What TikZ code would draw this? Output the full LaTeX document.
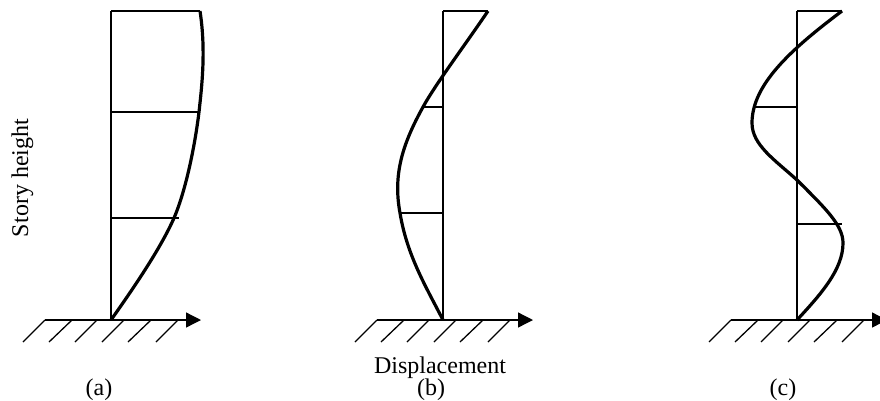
\documentclass[tikz,border=0pt]{standalone}
\usepackage{fontspec}
\setmainfont{Liberation Serif}
\usetikzlibrary{arrows.meta}
\tikzset{
  column/.style={draw, line width=1.3pt},
  modeline/.style={draw, line width=3.2pt, line join=round},
  ground/.style={-{Triangle[length=15pt,width=15pt]}, line width=1.3pt},
  hatch/.style={draw, line width=1.3pt},
  caption/.style={font=\fontsize{24}{24}\selectfont, inner sep=0pt, anchor=base},
}

\begin{document}
\begin{tikzpicture}[x=1pt, y=-1pt]
\useasboundingbox (0,0) rectangle (880,400);

%% ground lines, one for each panel
\foreach \n/\x in {a/0, b/332, c/686} {
  \coordinate (base\n) at ({111+\x}, 320);
  \coordinate (top\n) at ({111+\x}, 11);
  \coordinate (gl\n) at ({45+\x}, 320);
  \coordinate (gr\n) at ({201+\x}, 320);
  \draw[ground] (gl\n) -- (gr\n);
  \draw[column] (base\n) -- (top\n);
  % hatching below the ground line
  \foreach \h/\b in {45/23, 72/49, 97/75, 124/102, 151/128, 178/156} {
    \draw[hatch] ({\h+\x}, 320) -- ({\b+\x}, 342);
  }
}

%% Panel (a)
\draw[column] (topa) -- (200, 11);
\draw[column] (111, 112) -- (200, 112);
\draw[column] (111, 218) -- (179, 218);
\draw[modeline] (basea) .. controls (130, 293) and (160, 250) .. (174, 218)
  .. controls (186, 190) and (195, 145) .. (199, 112)
  .. controls (202, 85) and (206, 50) .. (200, 11);

%% Panel (b)
\draw[column] (topb) -- (488, 11);
\draw[column] (423, 107) -- (443, 107);
\draw[column] (400, 213) -- (443, 213);
\draw[modeline] (baseb) .. controls (425, 285) and (407, 255) .. (400, 213)
  .. controls (393, 175) and (402, 145) .. (423, 107)
  .. controls (435, 85) and (465, 45) .. (488, 11);

%% Panel (c)
\draw[column] (topc) -- (842, 11);
\draw[column] (755, 107) -- (797, 107);
\draw[column] (797, 224) -- (842, 224);
\draw[modeline] (basec) .. controls (820, 295) and (843, 270) .. (843, 243)
  .. controls (843, 225) and (825, 208) .. (797, 180)
  .. controls (775, 160) and (752, 145) .. (752, 123)
  .. controls (752, 85) and (790, 50) .. (842, 11);

%% Labels
\node[caption, rotate=90] (yaxis) at (28, 178) {Story height};
\node[caption] (xaxis) at (440, 373) {Displacement};
\node[caption] (capa) at (99, 395) {(a)};
\node[caption] (capb) at (431, 395) {(b)};
\node[caption] (capc) at (783, 395) {(c)};

\end{tikzpicture}
\end{document}
